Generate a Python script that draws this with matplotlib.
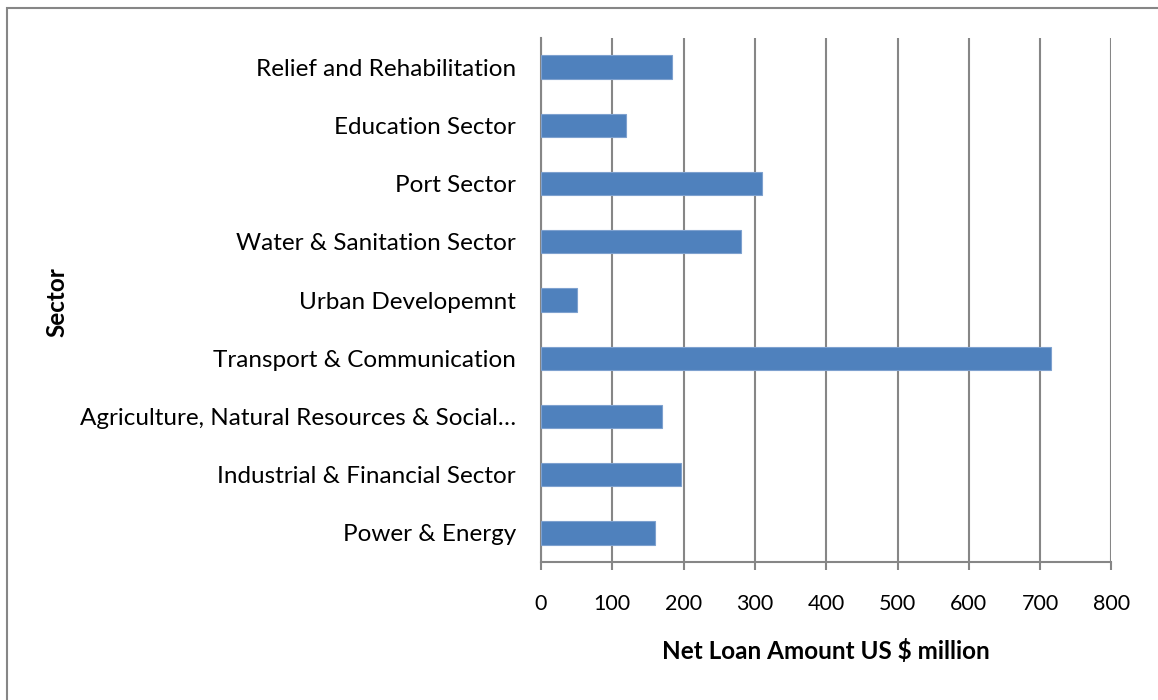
import matplotlib.pyplot as plt
from matplotlib.patches import Rectangle

plt.rcParams['font.family'] = ['Lato', 'DejaVu Sans']

# Sector loan data (bottom to top)
sectors = ["Power & Energy",
           "Industrial & Financial Sector",
           "Agriculture, Natural Resources & Social\u2026",
           "Transport & Communication",
           "Urban Developemnt",
           "Water & Sanitation Sector",
           "Port Sector",
           "Education Sector",
           "Relief and Rehabilitation"]
amounts = [160, 197, 170, 715, 50, 280, 310, 119, 183]
x_ticks = [0, 100, 200, 300, 400, 500, 600, 700, 800]

grid_col = "#868686"

fig = plt.figure(figsize=(11.58, 7), dpi=100)
ax = fig.add_axes([0.4672, 0.1971, 0.4926, 0.7486])

ax.barh(range(len(sectors)), amounts, height=0.4,
        color="#4F81BD", edgecolor="#7EA1CF", linewidth=0.8, zorder=3)

ax.set_xlim(0, 800)
ax.set_ylim(-0.5, len(sectors) - 0.5)
ax.set_xticks(x_ticks)
ax.set_xticklabels([str(t) for t in x_ticks], fontsize=15.5)
ax.set_yticks(range(len(sectors)))
ax.set_yticklabels(sectors, fontsize=17.5)

# vertical gridlines only
ax.grid(axis="x", color=grid_col, linewidth=1.5, zorder=0)
ax.grid(axis="y", visible=False)

for side in ["top", "right"]:
    ax.spines[side].set_visible(False)
ax.spines["left"].set_color(grid_col)
ax.spines["left"].set_linewidth(1.5)
ax.spines["bottom"].set_color(grid_col)
ax.spines["bottom"].set_linewidth(1.5)

ax.tick_params(axis="x", direction="out", length=6, width=1.5,
               color=grid_col, pad=17)
ax.tick_params(axis="y", length=0, pad=18)

ax.set_xlabel("Net Loan Amount US $ million", fontsize=17.5,
              fontweight="bold", labelpad=18)
fig.text(0.049, 0.5686, "Sector", rotation=90, fontsize=17.5,
         fontweight="bold", ha="center", va="center")

# chart border (right and bottom edges run off the canvas)
fig.patches.append(Rectangle((0.006, -0.1), 1.1, 1.088,
                             transform=fig.transFigure, fill=False,
                             edgecolor=grid_col, linewidth=1.5))

fig.savefig("out.png", dpi=100)
